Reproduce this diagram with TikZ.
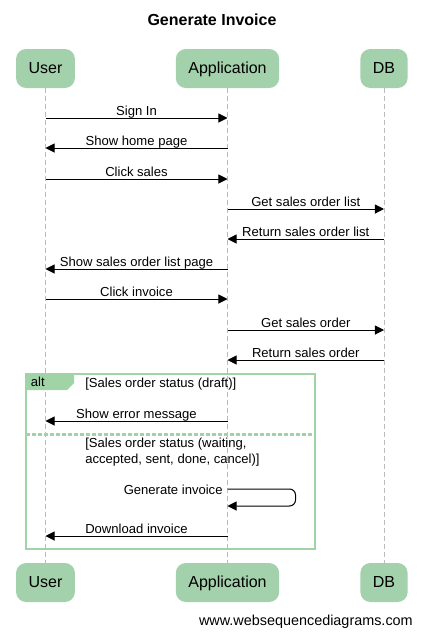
\documentclass[tikz,border=0pt]{standalone}
\usepackage{fontspec}
\setmainfont{Liberation Sans}
\usepackage{tikz}
\usetikzlibrary{arrows.meta,positioning}
\definecolor{actorgreen}{HTML}{A3D1AB}
\definecolor{framegreen}{HTML}{A0D4A7}
\definecolor{lifegray}{HTML}{BBBBBB}

\begin{document}
\begin{tikzpicture}[x=0.75pt, y=-0.75pt,
    actor/.style={fill=actorgreen, rounded corners=7.5pt, inner xsep=9.4pt, inner ysep=0pt, minimum height=29.25pt, text height=9pt, text depth=2.2pt, font=\fontsize{12}{14}\selectfont},
    life/.style={draw=lifegray, dash pattern=on 3.75pt off 2.25pt, line width=0.75pt},
    msg/.style={-{Triangle[length=6.8pt, width=6.8pt]}, line width=0.75pt},
    lbl/.style={font=\fontsize{9.8}{12}\selectfont, inner sep=0.5pt, text height=7pt, text depth=1.2pt},
    guard/.style={font=\fontsize{9.8}{12}\selectfont, anchor=west, inner sep=0pt, align=left}]
    \useasboundingbox (0,0) rectangle (423,636);
    \node[font=\bfseries\fontsize{12}{14}\selectfont] (title) at (212,20) {Generate Invoice};

    % participants, top and bottom
    \node[actor] (user) at (45.5,68.5) {User};
    \node[actor] (app) at (227.5,68.5) {Application};
    \node[actor] (db) at (384,68.5) {DB};
    \node[actor] (userb) at (45.5,582.5) {User};
    \node[actor] (appb) at (227.5,582.5) {Application};
    \node[actor] (dbb) at (384,582.5) {DB};
    \draw[life] (user) -- (userb);
    \draw[life] (app) -- (appb);
    \draw[life] (db) -- (dbb);

    % alt frame
    \draw[framegreen, line width=1.5pt] (26,374) rectangle (315,549);
    \fill[framegreen] (26,374) -- (74,374) -- (74,383) -- (67,390) -- (26,390) -- cycle;
    \node[lbl, anchor=west] (alttag) at (30,382.5) {alt};
    \node[guard] (draft) at (85,384) {[Sales order status (draft)]};
    \draw[framegreen, line width=2.25pt, dash pattern=on 3pt off 1.5pt] (26,434) -- (315,434);
    \node[guard, anchor=north west] (other) at (85,437.5) {[Sales order status (waiting,\\accepted, sent, done, cancel)]};

    % messages
    \foreach \src/\dst/\y/\txt in {user/app/118/Sign In, app/user/148/Show home page,
        user/app/179/Click sales, app/db/209/Get sales order list,
        db/app/239/Return sales order list, app/user/269/Show sales order list page,
        user/app/299/Click invoice, app/db/330/Get sales order,
        db/app/360/Return sales order, app/user/421/Show error message,
        app/user/536/Download invoice} {
        \coordinate (s\y) at (\src.south |- 0,\y);
        \coordinate (d\y) at (\dst.south |- 0,\y);
        \draw[msg] (s\y) -- node[above, lbl] {\txt} (d\y);
    }

    % self message
    \coordinate (gs) at (app.south |- 0,489);
    \coordinate (ge) at (app.south |- 0,506);
    \draw[msg, rounded corners=4.5pt] (gs) -- ++(68,0) -- ++(0,17) -- (ge);
    \node[lbl, anchor=east] (genlbl) at ([xshift=-3pt, yshift=-1.5pt]gs) {Generate invoice};

    \node[font=\fontsize{10.8}{13}\selectfont, anchor=east, inner sep=0pt] (footer) at (413,622) {www.websequencediagrams.com};
\end{tikzpicture}
\end{document}
